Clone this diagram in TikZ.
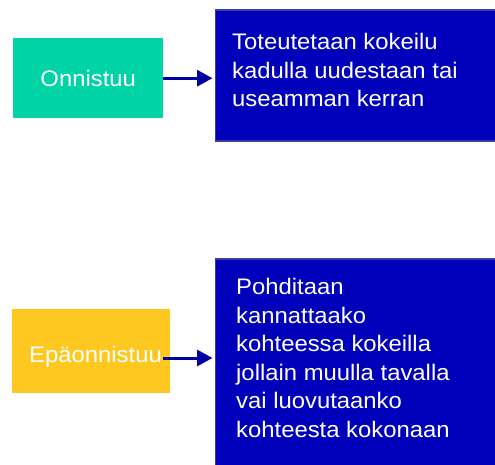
\documentclass[tikz,border=0pt]{standalone}
\usepackage{fontspec}
\setmainfont{Liberation Sans}[FakeStretch=1.06]
\usetikzlibrary{arrows.meta}
\definecolor{okgreen}{RGB}{0,212,166}
\definecolor{failyellow}{RGB}{255,200,32}
\definecolor{boxblue}{RGB}{0,0,187}
\definecolor{boxedge}{RGB}{60,60,165}
\definecolor{arrowblue}{RGB}{0,0,165}
\begin{document}
\begin{tikzpicture}[x=1pt,y=-1pt,
  colorbox/.style={rectangle,inner sep=0pt,anchor=north west},
  bluebox/.style={colorbox,fill=boxblue,draw=boxedge,line width=1.5pt},
  whitetext/.style={text=white,inner sep=0pt,font=\fontsize{22.5}{28.5}\selectfont},
  flow/.style={draw=arrowblue,line width=3pt,-{Triangle[length=15.5pt,width=16pt]},shorten >=2pt}
]
\useasboundingbox (0,0) rectangle (495,464);
\clip (0,0) rectangle (495,464);
\node[colorbox,fill=okgreen,minimum width=150pt,minimum height=80pt] (ok) at (13,38) {};
\node[whitetext] (oktext) at (ok.center) {Onnistuu};
\node[bluebox,minimum width=320pt,minimum height=131pt] (b1) at (214.5,9) {};
\node[whitetext,anchor=base west,align=left] (b1text) at (232,106.5)
  {Toteutetaan kokeilu\\kadulla uudestaan tai\\useamman kerran};
\draw[flow] (ok.east) -- (ok.east -| b1.west);

\node[colorbox,fill=failyellow,minimum width=158pt,minimum height=84pt] (fail) at (12,309) {};
\node[whitetext,anchor=base] (failtext) at (95.5,362) {Epäonnistuu};
\node[bluebox,minimum width=320pt,minimum height=230pt] (b2) at (214.5,258) {};
\node[whitetext,anchor=base west,align=left] (b2text) at (236,437)
  {Pohditaan\\kannattaako\\kohteessa kokeilla\\jollain muulla tavalla\\vai luovutaanko\\kohteesta kokonaan};
\coordinate (s2) at (163,358);
\draw[flow] (s2) -- (s2 -| b2.west);
\end{tikzpicture}
\end{document}
